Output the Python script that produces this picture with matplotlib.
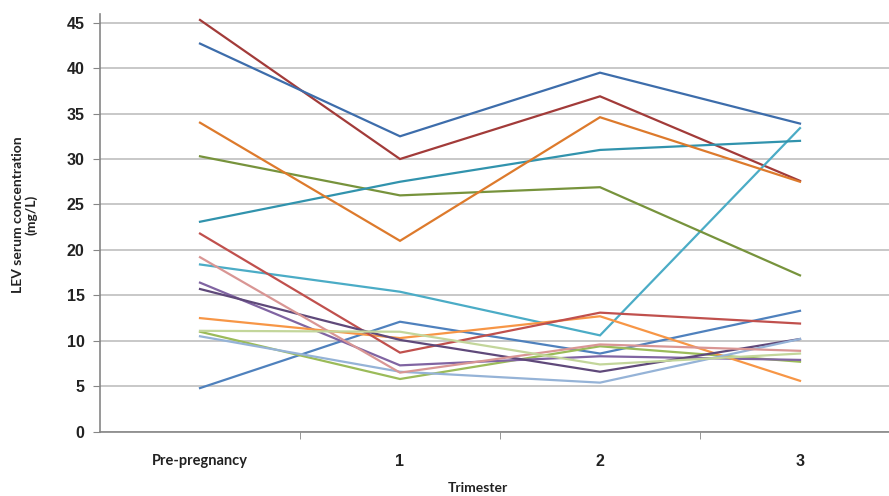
import numpy as np
import matplotlib
matplotlib.use('Agg')
import matplotlib.pyplot as plt

# Categories and LEV concentrations (mg/L) per patient
categories = ['Pre-pregnancy', '1', '2', '3']

p01 = [45.3, 30.0, 36.9, 27.6]
p02 = [42.7, 32.5, 39.5, 33.9]
p03 = [34.0, 21.0, 34.6, 27.5]
p04 = [30.3, 26.0, 26.9, 17.2]
p05 = [23.1, 27.5, 31.0, 32.0]
p06 = [18.4, 15.4, 10.6, 33.4]
p07 = [21.8, 8.7, 13.1, 11.9]
p08 = [19.2, 6.5, 9.6, 8.9]
p09 = [16.4, 7.3, 8.3, 7.9]
p10 = [15.7, 10.1, 6.6, 10.2]
p11 = [12.5, 10.3, 12.7, 5.6]
p12 = [11.1, 11.0, 7.4, 8.6]
p13 = [11.0, 5.8, 9.4, 7.7]
p14 = [10.5, 6.6, 5.4, 10.2]
p15 = [4.8, 12.1, 8.6, 13.3]

series = [p15, p01, p13, p09, p06, p11, p02, p07, p04, p10, p05, p03,
          p14, p08, p12]
colors = ['#4F81BD', '#A23B39', '#9BBB59', '#8064A2', '#4BACC6', '#F79646',
          '#3D6DAB', '#C0504D', '#77933C', '#5F497A', '#3193AD', '#DD7A2C',
          '#95B3D7', '#D99694', '#C3D69B']

fig = plt.figure(figsize=(8.89, 4.96), dpi=100)
ax = fig.add_axes([100 / 889, 0.1296, 800 / 889, 0.843])

x = np.arange(len(categories))
for vals, c in zip(series, colors):
    ax.plot(x, vals, color=c, lw=1.6, solid_joinstyle='miter')

ax.set_xlim(-0.5, 3.5)
ax.set_ylim(0, 46)
ax.set_yticks(np.arange(0, 50, 5))
ax.yaxis.grid(True, color='#BFBFBF', lw=1.2)
ax.set_axisbelow(True)

ax.set_xticks(x)
ax.set_xticklabels(categories)
ax.set_xticks([0.5, 1.5, 2.5], minor=True)
ax.tick_params(axis='x', which='major', length=0, pad=16)
ax.tick_params(axis='x', which='minor', length=5, color='#868686', direction='out')
ax.tick_params(axis='y', length=5, color='#868686', pad=6)

for lab in ax.get_yticklabels():
    lab.set_fontfamily('Liberation Sans')
    lab.set_fontweight('bold')
    lab.set_fontsize(11.5)
    lab.set_color('#222222')
for lab in ax.get_xticklabels():
    lab.set_fontweight('bold')
    lab.set_color('#222222')
    if lab.get_text() == 'Pre-pregnancy':
        lab.set_fontfamily('Lato')
        lab.set_fontsize(10.5)
    else:
        lab.set_fontfamily('Liberation Sans')
        lab.set_fontsize(11.5)

for s in ['top', 'right']:
    ax.spines[s].set_visible(False)
for s in ['left', 'bottom']:
    ax.spines[s].set_color('#868686')
    ax.spines[s].set_linewidth(1.2)

fig.text(25 / 889, 1 - 215 / 496, 'LEV serum concentration\n(mg/L)', rotation=90,
         ha='center', va='center', fontfamily='Lato', fontweight='bold',
         fontsize=10, color='#222222', linespacing=1.1)
fig.text(478 / 889, 1 - 488 / 496, 'Trimester', ha='center', va='center',
         fontfamily='Lato', fontweight='bold', fontsize=10, color='#222222')

fig.savefig('out.png', dpi=100, facecolor='white')
